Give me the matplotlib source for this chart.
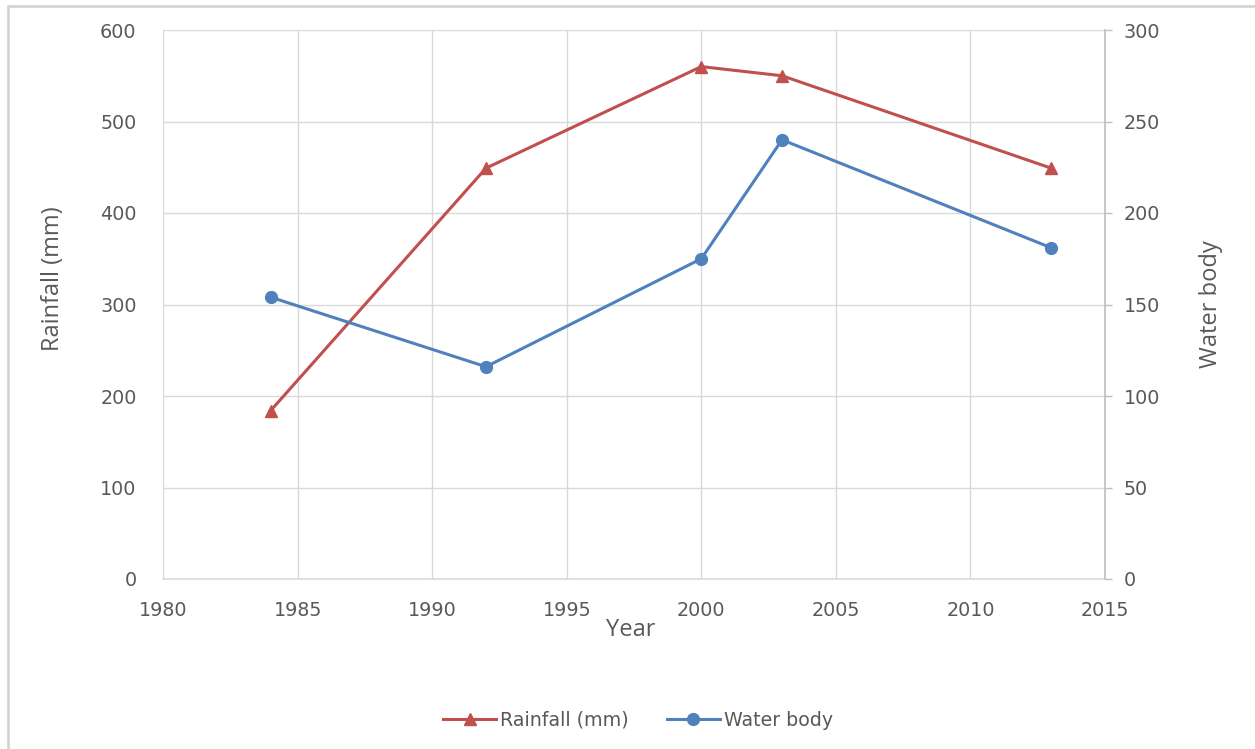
import matplotlib.pyplot as plt
from matplotlib.patches import Rectangle
from matplotlib.lines import Line2D

plt.rcParams['font.family'] = ['DejaVu Sans']

# Series
years = [1984, 1992, 2000, 2003, 2013]
rainfall = [184, 449, 560, 550, 449]
water_body = [154, 116, 175, 240, 181]

x_ticks = [1980, 1985, 1990, 1995, 2000, 2005, 2010, 2015]
left_ticks = [0, 100, 200, 300, 400, 500, 600]
right_ticks = [0, 50, 100, 150, 200, 250, 300]

red = '#C0504D'
blue = '#4F81BD'
grid_col = '#D9D9D9'
text_col = '#595959'
label_font = ['Open Sans', 'DejaVu Sans']
tick_size = 13.8

fig = plt.figure(figsize=(12.55, 7.49), dpi=100)

# outer chart frame
fig.patches.append(Rectangle((8 / 1255, -0.1), 1.2, 1 - 6 / 749 + 0.1,
                             transform=fig.transFigure, fill=False,
                             edgecolor='#D0D0D0', linewidth=1.8))

ax = fig.add_axes([163 / 1255, 1 - 579 / 749, (1105 - 163) / 1255, (579 - 30) / 749])
ax2 = ax.twinx()

ax.plot(years, rainfall, color=red, linewidth=2.2, marker='^', markersize=9,
        label='Rainfall (mm)', zorder=3)
ax2.plot(years, water_body, color=blue, linewidth=2.2, marker='o', markersize=8.5,
         label='Water body', zorder=3)

ax.set_xlim(1980, 2015)
ax.set_ylim(0, 600)
ax2.set_ylim(0, 300)
ax.set_xticks(x_ticks)
ax.set_yticks(left_ticks)
ax2.set_yticks(right_ticks)

ax.grid(True, color=grid_col, linewidth=1)
ax.set_axisbelow(True)

for s in ['top', 'left', 'right']:
    ax.spines[s].set_visible(False)
    ax2.spines[s].set_visible(False)
ax2.spines['bottom'].set_visible(False)
ax.spines['bottom'].set_color(grid_col)
ax.spines['bottom'].set_linewidth(1.2)
ax2.spines['right'].set_visible(True)
ax2.spines['right'].set_color('#BFBFBF')
ax2.spines['right'].set_linewidth(1.2)

ax.tick_params(axis='x', length=0, pad=16, labelsize=tick_size, labelcolor=text_col)
ax.tick_params(axis='y', length=0, pad=19, labelsize=tick_size, labelcolor=text_col)
ax2.tick_params(axis='y', length=5, width=1, color='#BFBFBF', direction='out',
                pad=8.5, labelsize=tick_size, labelcolor=text_col)

ax.set_xlabel('Year', fontsize=17, color=text_col, family=label_font)
ax.xaxis.set_label_coords(0.497, -0.071)
ax.set_ylabel('Rainfall (mm)', fontsize=17, color=text_col, family=label_font)
ax.yaxis.set_label_coords(-0.104, 0.547)
ax2.set_ylabel('Water body', fontsize=17, color=text_col, family=label_font)
ax2.yaxis.set_label_coords(1.100, 0.5)

handles = [
    Line2D([], [], color=red, linewidth=2.2, marker='^', markersize=9),
    Line2D([], [], color=blue, linewidth=2.2, marker='o', markersize=8.5),
]
fig.legend(handles, ['Rainfall (mm)', 'Water body'], loc='center',
           bbox_to_anchor=(638 / 1255, 1 - 720 / 749), ncol=2, frameon=False,
           fontsize=13.7, labelcolor=text_col, handlelength=2.8, handletextpad=0.2,
           columnspacing=2.0)

fig.savefig('out.png', dpi=100)
